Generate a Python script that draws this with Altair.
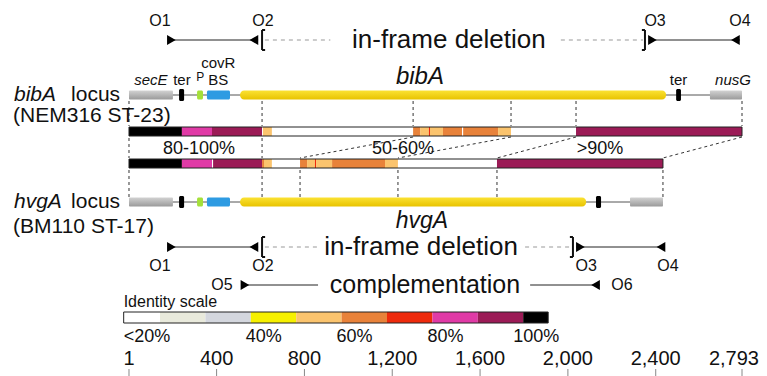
import altair as alt
import pandas as pd

FONT = "Liberation Sans"

# ---------------- data ----------------
# genomic features, bp along the bibA locus (1 .. 2793)
feat_label = ["secE", "ter", "P", "covR BS", "gene", "ter", "nusG"]
feat_kind = ["flank", "ter", "promoter", "covR", "gene", "ter", "flank"]
bib_start = [1, 229, 311, 356, 507, 2493, 2647]
bib_end = [201, 252, 338, 461, 2447, 2515, 2793]
hvg_start = [1, 229, 311, 356, 507, 2128, 2283]
hvg_end = [201, 252, 338, 461, 2083, 2151, 2433]
bib_locus_end = 2793
hvg_locus_end = 2433
kind_names = ["flank", "ter", "promoter", "covR", "gene"]
kind_colors = ["#ababab", "#000000", "#a5e03a", "#2e9be2", "#f4d20c"]

# identity classes (legend)
id_class = ["<20", "20-30", "30-40", "40-50", "50-60", "60-70", "70-80", "80-90", "90-99", "100"]
id_color = ["#ffffff", "#e9eadc", "#d4d7de", "#f6f000", "#fbc46e", "#e8823a",
            "#ee2a0c", "#e03aa6", "#9b1b56", "#000000"]
id_lo = [12, 20, 30, 40, 50, 60, 70, 80, 90, 100]
id_hi = [20, 30, 40, 50, 60, 70, 80, 90, 100, 105.5]
legend_tick_pct = [40, 60, 80, 100]
legend_tick_lbl = ["40%", "60%", "80%", "100%"]

# identity segments of the two loci
bib_seg_start = [1, 242, 379, 607, 611, 652, 1295, 1327, 1367, 1372, 1431, 1518, 1523, 1682, 1741, 2037]
bib_seg_end = [242, 379, 607, 611, 652, 1295, 1327, 1367, 1372, 1431, 1518, 1523, 1682, 1741, 2037, 2793]
bib_seg_class = ["100", "80-90", "90-99", "<20", "50-60", "<20", "60-70", "50-60", "70-80", "50-60",
                 "60-70", "<20", "60-70", "50-60", "<20", "90-99"]
hvg_seg_start = [1, 242, 379, 384, 607, 616, 652, 780, 812, 848, 853, 926, 1167, 1226, 1677]
hvg_seg_end = [242, 379, 384, 607, 616, 652, 780, 812, 848, 853, 926, 1167, 1226, 1677, 2433]
hvg_seg_class = ["100", "80-90", "<20", "90-99", "60-70", "50-60", "<20", "60-70", "50-60", "70-80",
                 "50-60", "60-70", "50-60", "<20", "90-99"]
region_label = ["80-100%", "50-60%", ">90%"]
region_pos = [320, 1249, 2146]

# connectors
conn_top = [1, 607, 1295, 1741, 2037, 2793]
conn_mid = [1, 607]
conn_low = [1, 607, 780, 1226, 1677, 2433]
diag_from = [1295, 1741, 2037, 2793]
diag_to = [780, 1226, 1677, 2433]

# primers
p_top_name = ["O1", "O2", "O3", "O4"]
p_top_pos = [194, 570, 2385, 2763]
p_top_dir = ["triangle-right", "triangle-left", "triangle-right", "triangle-left"]
p_top_lbl = [142, 611, 2397, 2784]
p_bot_name = ["O1", "O2", "O3", "O4", "O5", "O6"]
p_bot_pos = [194, 570, 2057, 2424, 529, 2126]
p_bot_dir = ["triangle-right", "triangle-left", "triangle-right", "triangle-left", "triangle-right", "triangle-left"]
p_bot_lbl = [142, 611, 2083, 2456, 424, 2246]
top_solid = [(179, 589), (2374, 2784)]
top_dash = [(620, 918), (1968, 2342)]
bot_solid = [(179, 589), (2037, 2442)]
bot_dash = [(620, 860), (1805, 2010)]
comp_solid = [(529, 862), (1828, 2146)]
top_brackets = [(607, 1), (2351, -1)]
bot_brackets = [(607, 1), (2023, -1)]
text_center = {"top_del": 1458, "bot_del": 1331, "comp": 1349}

axis_vals = [1, 400, 800, 1200, 1600, 2000, 2400, 2793]
axis_lbls = ["1", "400", "800", "1,200", "1,600", "2,000", "2,400", "2,793"]

# ---------------- layout (page pixel rows) ----------------
Y = dict(plbl_top=21, ptop=40, covr=63, glbl=80, bib=95, bib_sub=116, b1=(127, 136), pct=149,
         b2=(159, 168), hvg=202, hvg_name=221, hvg_sub=227, pbot=247, plbl_bot=266, comp=285,
         comp_lbl=285, leg_title=302, leg=(312, 323), leg_lbl=337, ax_lbl=359, tick=(369, 376))

xs = alt.Scale(domain=[-550.1, 2870.4], nice=False, zero=False)
ys = alt.Scale(domain=[8, 376], reverse=True, nice=False, zero=False)
lxs = alt.Scale(domain=[-13.48, 151.94], nice=False, zero=False)

kind_map = dict(zip(kind_names, kind_colors))
id_map = dict(zip(id_class, id_color))


def X(f, s=xs):
    return alt.X(f, type="quantitative", scale=s, axis=None)


def Yq(f):
    return alt.Y(f, type="quantitative", scale=ys, axis=None)


def rules(pairs, y, dash=None, color="#222", width=1.0):
    d = pd.DataFrame({"a": [p[0] for p in pairs], "b": [p[1] for p in pairs], "y": y})
    kw = dict(color=color, strokeWidth=width)
    if dash:
        kw["strokeDash"] = dash
    return alt.Chart(d).mark_rule(**kw).encode(x=X("a"), x2="b", y=Yq("y"))


def texts(xv, yv, labels, size, style="normal", align="center", color="#111", dx=0, s=xs):
    d = pd.DataFrame({"x": xv, "y": yv, "t": labels})
    return alt.Chart(d).mark_text(font=FONT, fontSize=size, fontStyle=style, align=align,
                                  baseline="middle", color=color, dx=dx).encode(
        x=X("x", s), y=Yq("y"), text="t:N")


HEX = alt.Color("hex:N", scale=None, legend=None)
layers = []

# backbones
bb = pd.DataFrame({"a": [1, 1], "b": [bib_locus_end, hvg_locus_end], "y": [Y["bib"], Y["hvg"]]})
layers.append(alt.Chart(bb).mark_rule(color="#555", strokeWidth=1).encode(x=X("a"), x2="b", y=Yq("y")))

# features
rows = []
for track, st, en in (("bib", bib_start, bib_end), ("hvg", hvg_start, hvg_end)):
    yc = Y[track]
    for lab, k, a, b in zip(feat_label, feat_kind, st, en):
        h = 12 if k == "ter" else 9
        rows.append(dict(a=a, b=b, kind=k, hex=kind_map[k], y1=yc - h / 2, y2=yc + h / 2))
feat = pd.DataFrame(rows)
gray_grad = alt.Gradient(gradient="linear", x1=0, x2=0, y1=0, y2=1,
                         stops=[alt.GradientStop(color="#d2d2d2", offset=0),
                                alt.GradientStop(color="#9a9a9a", offset=1)])
gold_grad = alt.Gradient(gradient="linear", x1=0, x2=0, y1=0, y2=1,
                         stops=[alt.GradientStop(color="#fbe233", offset=0),
                                alt.GradientStop(color="#e8c300", offset=1)])
layers.append(alt.Chart(feat[feat.kind == "flank"]).mark_rect(color=gray_grad, cornerRadius=1).encode(
    x=X("a"), x2="b", y=Yq("y1"), y2="y2"))
layers.append(alt.Chart(feat[~feat.kind.isin(["gene", "flank"])]).mark_rect(cornerRadius=1.5).encode(
    x=X("a"), x2="b", y=Yq("y1"), y2="y2", color=HEX))
layers.append(alt.Chart(feat[feat.kind == "gene"]).mark_rect(color=gold_grad, cornerRadius=4).encode(
    x=X("a"), x2="b", y=Yq("y1"), y2="y2"))

# identity bars
bars = pd.DataFrame({"a": [1, 1], "b": [bib_locus_end, hvg_locus_end],
                     "y1": [Y["b1"][0], Y["b2"][0]], "y2": [Y["b1"][1], Y["b2"][1]]})
layers.append(alt.Chart(bars).mark_rect(fill="white").encode(x=X("a"), x2="b", y=Yq("y1"), y2="y2"))
segs = pd.concat([
    pd.DataFrame({"a": bib_seg_start, "b": bib_seg_end, "cls": bib_seg_class, "y1": Y["b1"][0], "y2": Y["b1"][1]}),
    pd.DataFrame({"a": hvg_seg_start, "b": hvg_seg_end, "cls": hvg_seg_class, "y1": Y["b2"][0], "y2": Y["b2"][1]}),
])
segs["hex"] = segs["cls"].map(id_map)
layers.append(alt.Chart(segs).mark_rect(strokeWidth=0).encode(x=X("a"), x2="b", y=Yq("y1"), y2="y2", color=HEX))
layers.append(alt.Chart(bars).mark_rect(fill=None, stroke="#222", strokeWidth=1).encode(
    x=X("a"), x2="b", y=Yq("y1"), y2="y2"))

# connectors
cdash = [3, 3]
conn = pd.concat([
    pd.DataFrame({"x": conn_top, "y1": Y["bib"] + 6, "y2": Y["b1"][0] - 1}),
    pd.DataFrame({"x": conn_mid, "y1": Y["b1"][1] + 2, "y2": Y["b2"][0] - 1}),
    pd.DataFrame({"x": conn_low, "y1": Y["b2"][1] + 2, "y2": Y["hvg"] - 5}),
])
layers.append(alt.Chart(conn).mark_rule(color="#333", strokeDash=cdash, strokeWidth=1).encode(
    x=X("x"), y=Yq("y1"), y2="y2"))
diag = pd.DataFrame({"a": diag_from, "b": diag_to, "y1": Y["b1"][1] + 1, "y2": Y["b2"][0] - 1})
layers.append(alt.Chart(diag).mark_rule(color="#333", strokeDash=cdash, strokeWidth=1).encode(
    x=X("a"), x2="b", y=Yq("y1"), y2="y2"))

# primer lines
layers.append(rules(top_solid, Y["ptop"]))
layers.append(rules(top_dash, Y["ptop"], dash=[4, 4], color="#999"))
layers.append(rules(bot_solid, Y["pbot"]))
layers.append(rules(bot_dash, Y["pbot"], dash=[4, 4], color="#999"))
layers.append(rules(comp_solid, Y["comp"]))

# brackets
for br, yc in ((top_brackets, Y["ptop"]), (bot_brackets, Y["pbot"])):
    bd = pd.DataFrame({"x": [b[0] for b in br], "xe": [b[0] + 14 * b[1] for b in br],
                       "y1": yc - 10, "y2": yc + 10})
    layers.append(alt.Chart(bd).mark_rule(color="#111", strokeWidth=2).encode(x=X("x"), y=Yq("y1"), y2="y2"))
    layers.append(alt.Chart(bd).mark_rule(color="#111", strokeWidth=2).encode(x=X("x"), x2="xe", y=Yq("y1")))
    layers.append(alt.Chart(bd).mark_rule(color="#111", strokeWidth=2).encode(x=X("x"), x2="xe", y=Yq("y2")))

# primer heads
heads = pd.concat([
    pd.DataFrame({"x": p_top_pos, "shape": p_top_dir, "y": Y["ptop"]}),
    pd.DataFrame({"x": p_bot_pos[:4], "shape": p_bot_dir[:4], "y": Y["pbot"]}),
    pd.DataFrame({"x": p_bot_pos[4:], "shape": p_bot_dir[4:], "y": Y["comp"]}),
])
layers.append(alt.Chart(heads).mark_point(filled=True, color="#000", size=100, opacity=1).encode(
    x=X("x"), y=Yq("y"), shape=alt.Shape("shape:N", scale=None)))

# primer labels
layers.append(texts(p_top_lbl, Y["plbl_top"], p_top_name, 16))
layers.append(texts(p_bot_lbl[:4], Y["plbl_bot"], p_bot_name[:4], 16))
layers.append(texts(p_bot_lbl[4:], Y["comp_lbl"], p_bot_name[4:], 16))
layers.append(texts([text_center["top_del"], text_center["bot_del"]], [Y["ptop"], Y["pbot"]],
                    ["in-frame deletion"] * 2, 26))
layers.append(texts([text_center["comp"]], [Y["comp"]], ["complementation"], 25))

# gene labels
layers.append(texts([101, 2752], Y["glbl"], ["secE", "nusG"], 15, style="italic"))
layers.append(texts([242, 2504, 408], Y["glbl"], ["ter", "ter", "BS"], 15))
layers.append(texts([408], Y["covr"], ["covR"], 15))
layers.append(texts([325], Y["glbl"] - 3, ["P"], 12))
layers.append(texts([1326], [Y["glbl"] - 3], ["bibA"], 24, style="italic"))
layers.append(texts([1335], [Y["hvg_name"]], ["hvgA"], 23, style="italic"))

# locus labels
layers.append(texts([-523, -523], [Y["bib"], Y["hvg"]], ["bibA", "hvgA"], 21, style="italic", align="left"))
layers.append(texts([-263, -263], [Y["bib"], Y["hvg"]], ["locus", "locus"], 21, align="left"))
layers.append(texts([-527, -527], [Y["bib_sub"], Y["hvg_sub"]], ["(NEM316 ST-23)", "(BM110 ST-17)"], 21, align="left"))

# region identity labels
layers.append(texts(region_pos, Y["pct"], region_label, 18))

# bottom coordinate axis
layers.append(texts(axis_vals[:-1], Y["ax_lbl"], axis_lbls[:-1], 20))
layers.append(texts(axis_vals[-1:], Y["ax_lbl"], axis_lbls[-1:], 20, align="right", dx=17))
tk = pd.DataFrame({"x": axis_vals, "y1": Y["tick"][0], "y2": Y["tick"][1]})
layers.append(alt.Chart(tk).mark_rule(color="#888", strokeWidth=1).encode(x=X("x"), y=Yq("y1"), y2="y2"))

main = alt.layer(*layers)

# identity legend (own x scale: percent identity)
leg = pd.DataFrame({"a": id_lo, "b": id_hi, "cls": id_class, "y1": Y["leg"][0], "y2": Y["leg"][1]})
leg["hex"] = leg["cls"].map(id_map)
leg_layers = [
    alt.Chart(leg).mark_rect(strokeWidth=0).encode(x=X("a", lxs), x2="b", y=Yq("y1"), y2="y2", color=HEX),
    alt.Chart(pd.DataFrame({"a": [id_lo[0]], "b": [id_hi[-1]], "y1": [Y["leg"][0]], "y2": [Y["leg"][1]]}))
    .mark_rect(fill=None, stroke="#222", strokeWidth=1).encode(x=X("a", lxs), x2="b", y=Yq("y1"), y2="y2"),
    texts([id_lo[0]], Y["leg_title"], ["Identity scale"], 16, align="left", s=lxs),
    texts([id_lo[0]], Y["leg_lbl"], ["<20%"], 18, align="left", s=lxs),
    texts(legend_tick_pct, Y["leg_lbl"], legend_tick_lbl, 18, dx=13, s=lxs),
]
legend = alt.layer(*leg_layers)

chart = alt.layer(main, legend).resolve_scale(x="independent").properties(
    width=751, height=368, padding=0, autosize=alt.AutoSizeParams(type="none")
).configure_view(stroke=None)

chart.save("out.html", embed_options={"renderer": "svg", "actions": False})
